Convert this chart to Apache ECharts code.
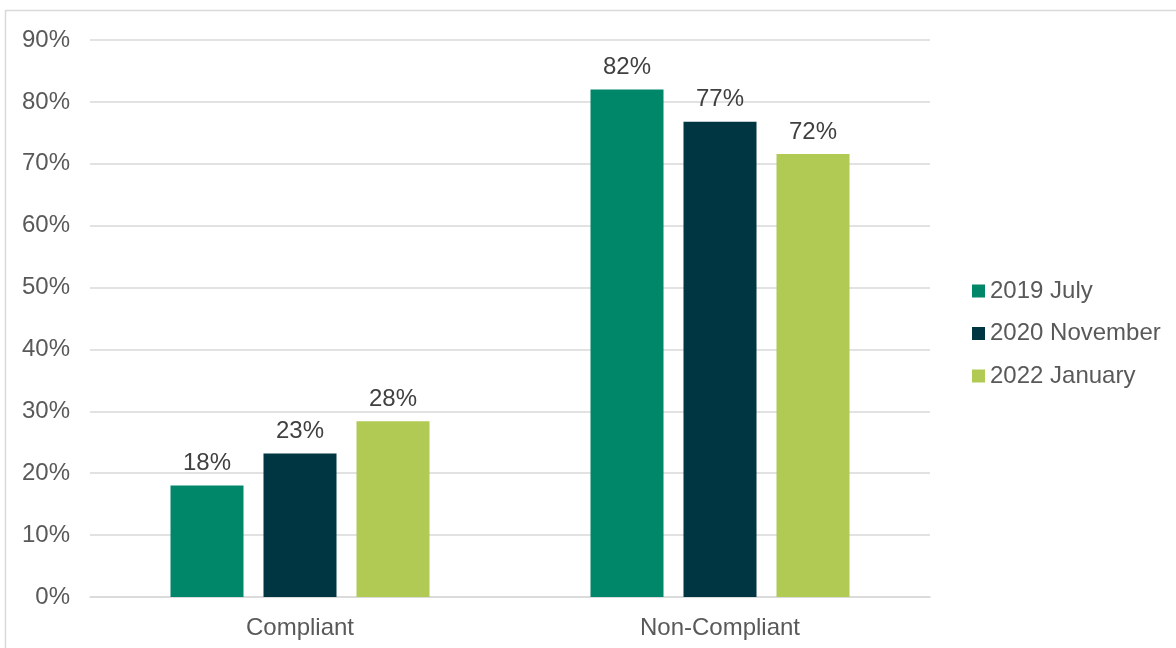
<!DOCTYPE html>
<html>
<head>
<meta charset="utf-8">
<script src="https://cdn.jsdelivr.net/npm/echarts@6/dist/echarts.min.js"></script>
<style>
html,body{margin:0;padding:0;background:#fff;}
#chart{width:1176px;height:648px;}
</style>
</head>
<body>
<div id="chart"></div>
<script>
const categories = ['Compliant', 'Non-Compliant'];
const seriesNames = ['2019 July', '2020 November', '2022 January'];
const july2019 = [18.0, 82.0];
const nov2020 = [23.2, 76.8];
const jan2022 = [28.4, 71.6];
const yTicks = [0, 10, 20, 30, 40, 50, 60, 70, 80, 90];
const colors = ['#00876a', '#003641', '#b0ca54'];

const values = [july2019, nov2020, jan2022];
const FONT = 'Liberation Sans, Arial, sans-serif';

const chart = echarts.init(document.getElementById('chart'));
chart.setOption({
  animation: false,
  backgroundColor: '#ffffff',
  graphic: [{
    type: 'rect',
    shape: { x: 5.5, y: 10.5, width: 1300, height: 800 },
    style: { fill: 'none', stroke: '#d9d9d9', lineWidth: 1.5 },
    silent: true
  }],
  grid: { left: 90, right: 246, top: 40, bottom: 51 },
  legend: {
    orient: 'vertical',
    left: 967,
    top: 274,
    itemWidth: 13,
    itemHeight: 13,
    itemGap: 18.5,
    icon: 'rect',
    textStyle: { fontFamily: FONT, fontSize: 24, color: '#595959', lineHeight: 24 },
    data: seriesNames
  },
  xAxis: {
    type: 'category',
    data: categories,
    axisLine: { lineStyle: { color: '#d9d9d9', width: 1.5 } },
    axisTick: { show: false },
    axisLabel: { fontFamily: FONT, fontSize: 24, color: '#595959', margin: 19 }
  },
  yAxis: {
    type: 'value',
    min: yTicks[0],
    max: yTicks[yTicks.length - 1],
    interval: 10,
    axisLine: { show: false },
    axisTick: { show: false },
    splitLine: { lineStyle: { color: '#d9d9d9', width: 1.5 } },
    axisLabel: { fontFamily: FONT, fontSize: 24, color: '#595959', margin: 20, padding: [5, 0, 0, 0], formatter: v => v + '%' }
  },
  series: seriesNames.map((name, i) => ({
    name: name,
    type: 'bar',
    data: values[i],
    barWidth: 73,
    barGap: '27.4%',
    itemStyle: { color: colors[i] },
    label: {
      show: true,
      position: 'top',
      distance: 10,
      fontFamily: FONT,
      fontSize: 24,
      color: '#404040',
      formatter: p => Math.round(p.value) + '%'
    }
  }))
});
</script>
</body>
</html>
